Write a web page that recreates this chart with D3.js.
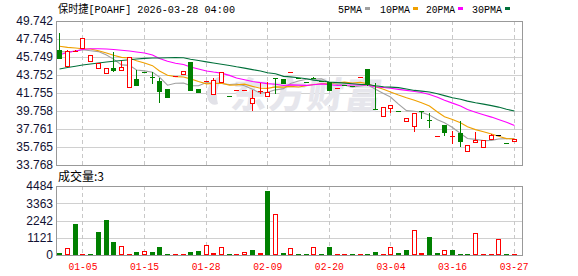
<!DOCTYPE html>
<html>
<head>
<meta charset="utf-8">
<script src="https://cdn.jsdelivr.net/npm/d3@7"></script>
<style>
  body { margin: 0; background: #fff; }
  svg { display: block; }
</style>
</head>
<body>
<div id="chart"></div>
<script>
// Step 1.
// Data

const dates = ["12-30", "12-31", "01-02", "01-05", "01-06", "01-07", "01-08", "01-09", "01-12", "01-13",
  "01-14", "01-15", "01-16", "01-20", "01-21", "01-22", "01-23", "01-26", "01-27", "01-28",
  "01-29", "01-30", "02-02", "02-03", "02-04", "02-05", "02-06", "02-09", "02-10", "02-11",
  "02-12", "02-13", "02-17", "02-18", "02-19", "02-20", "02-23", "02-24", "02-25", "02-26",
  "02-27", "03-02", "03-03", "03-04", "03-05", "03-06", "03-09", "03-10", "03-11", "03-12",
  "03-13", "03-16", "03-17", "03-18", "03-19", "03-20", "03-23", "03-24", "03-26", "03-27"];

const opens = [46.52, 44.67, 46.33, 46.67, 45.16, 44.38, 43.83, 44.56, 44.23, 42.28,
  43.31, 44.06, 43.50, 43.09, 42.20, 43.58, 43.78, 45.19, 42.20, 43.02,
  41.50, 42.90, 41.45, 42.02, 42.05, 40.50, 41.97, 41.28, 43.40, 43.31,
  44.02, 43.42, 42.95, 43.47, 43.05, 42.98, 42.25, 42.62, 42.48, 43.47,
  44.42, 39.95, 39.06, 39.95, 39.79, 38.51, 37.95, 39.73, 38.80, 36.88,
  38.21, 36.90, 37.32, 35.21, 36.21, 35.62, 36.54, 37.08, 36.22, 36.28];

const highs = [48.44, 46.50, 46.50, 47.82, 45.94, 45.12, 44.53, 46.30, 45.34, 45.78,
  44.31, 44.06, 44.05, 43.42, 42.20, 43.64, 44.16, 45.19, 42.20, 43.05,
  43.45, 44.14, 41.45, 42.05, 42.08, 42.05, 42.83, 42.98, 43.40, 43.31,
  44.05, 43.45, 43.00, 43.53, 43.08, 42.98, 42.28, 42.65, 42.48, 43.50,
  44.42, 42.83, 40.17, 40.39, 39.79, 38.95, 39.50, 39.73, 39.54, 37.00,
  38.21, 37.54, 38.65, 35.95, 37.39, 36.58, 37.20, 37.08, 36.22, 36.62];

const lows = [45.50, 44.62, 46.30, 46.67, 45.16, 44.38, 43.83, 44.05, 44.23, 42.28,
  42.57, 44.00, 42.75, 40.68, 41.23, 43.58, 43.78, 42.01, 41.72, 43.02,
  41.50, 42.90, 41.39, 42.02, 42.05, 39.79, 41.61, 41.28, 41.59, 42.75,
  44.02, 43.35, 42.88, 43.27, 42.97, 42.01, 42.25, 42.50, 42.39, 43.47,
  42.55, 39.87, 39.06, 39.57, 39.61, 38.51, 37.46, 38.84, 37.82, 36.88,
  37.02, 36.10, 35.71, 35.21, 36.21, 35.62, 36.54, 37.08, 36.20, 36.28];

const closes = [45.58, 46.45, 46.40, 47.82, 45.94, 45.12, 44.53, 44.16, 44.60, 45.71,
  42.57, 44.00, 43.45, 41.83, 41.23, 43.64, 44.16, 42.01, 41.72, 43.05,
  43.16, 44.14, 41.39, 42.05, 42.08, 41.17, 42.00, 41.92, 43.36, 42.75,
  44.05, 43.37, 42.90, 43.34, 43.00, 42.01, 42.28, 42.52, 42.39, 43.50,
  42.59, 39.87, 40.17, 40.39, 39.61, 38.95, 39.50, 39.68, 38.76, 37.00,
  37.28, 36.93, 36.35, 35.95, 36.55, 36.58, 37.06, 37.08, 36.20, 36.62];

const volumes = [130, 435, 2015, 60, 60, 1517, 2275, 867, 563, 60,
  195, 260, 195, 520, 70, 50, 50, 200, 280, 650,
  130, 500, 65, 65, 195, 345, 130, 4160, 2665, 130,
  435, 65, 65, 500, 65, 520, 65, 65, 65, 65,
  65, 195, 65, 500, 130, 325, 1625, 130, 1170, 130,
  325, 325, 65, 65, 1430, 65, 65, 1040, 65, 3];

// moving averages before a full window exists (earlier days are off the chart)
const ma5Head = [46.35, 46.30, 46.40, 46.55];
const ma10Head = [46.94, 46.82, 46.75, 46.67, 46.63, 46.45, 46.19, 45.94, 45.71];
const ma20Head = [46.00, 46.25, 46.41, 46.58, 46.67, 46.67, 46.64, 46.58, 46.49, 46.41,
  46.30, 46.19, 45.97, 45.58, 45.27, 45.06, 44.91, 44.64, 44.42];
const ma30Head = [44.42, 44.58, 44.72, 44.86, 44.97, 45.08, 45.19, 45.27, 45.36, 45.45,
  45.52, 45.60, 45.64, 45.64, 45.66, 45.69, 45.66, 45.49, 45.36, 45.21,
  45.08, 44.95, 44.81, 44.66, 44.51, 44.35, 44.20, 44.00, 43.89];

const priceTicks = [49.742, 47.745, 45.749, 43.752, 41.755, 39.758, 37.761, 35.765, 33.768];
const volumeTicks = [4484, 3363, 2242, 1121, 0];
const dateTicks = ["01-05", "01-15", "01-28", "02-09", "02-20", "03-04", "03-16", "03-27"];

const maNames = ["5PMA", "10PMA", "20PMA", "30PMA"];
const maColors = ["#a0a0a0", "#f0a000", "#ff00ff", "#00703a"];

// Step 2.
// Layout

const svgWidth = 578;
const svgHeight = 276;
const left = 56, right = 522;
const priceTop = 21, priceBottom = 165;
const volTop = 186, volBottom = 255;

const RED = "#ff0000", GREEN = "#008000";
const monoFont = "'Liberation Mono', 'Noto Sans CJK SC', monospace";

const svg = d3.select("#chart")
  .append("svg")
  .attr("width", svgWidth)
  .attr("height", svgHeight);

const x = d3.scaleBand().domain(dates).range([left, 518]);
const cx = d => Math.round(x(d) + x.bandwidth() / 2 - 0.5);

const y = d3.scaleLinear()
  .domain([priceTicks[priceTicks.length - 1], priceTicks[0]])
  .range([priceBottom, priceTop]);

const yVol = d3.scaleLinear()
  .domain([0, volumeTicks[0]])
  .range([volBottom, volTop]);

// Step 3.
// Frames and grid

function drawPanel(top, bottom, ticks, scale) {
  const g = svg.append("g").attr("shape-rendering", "crispEdges");
  g.selectAll(".hgrid")
    .data(ticks)
    .enter()
    .append("line")
    .attr("x1", left).attr("x2", right)
    .attr("y1", d => Math.round(scale(d)) + 0.5)
    .attr("y2", d => Math.round(scale(d)) + 0.5)
    .attr("stroke", "#d0d0d0");
  g.selectAll(".vgrid")
    .data(dateTicks)
    .enter()
    .append("line")
    .attr("x1", d => cx(d) + 0.5).attr("x2", d => cx(d) + 0.5)
    .attr("y1", top).attr("y2", bottom)
    .attr("stroke", "#c8c8c8")
    .attr("stroke-dasharray", "4,3");
  g.append("rect")
    .attr("x", left + 0.5).attr("y", top + 0.5)
    .attr("width", right - left).attr("height", bottom - top)
    .attr("fill", "none")
    .attr("stroke", "#999");
}
drawPanel(priceTop, priceBottom, priceTicks, y);
drawPanel(volTop, volBottom, volumeTicks, yVol);

// watermark
const wm = svg.append("g").attr("fill", "#e6e6ec");
wm.append("path")
  .attr("d", "M208,100 C204,86 214,76 228,74 C220,80 214,90 218,104 C214,106 210,104 208,100 Z")
  .attr("fill", "#e2e2e8");
wm.append("text")
  .attr("x", 230).attr("y", 108)
  .attr("transform", "skewX(-8) translate(15,0)")
  .style("font-family", "'Noto Sans CJK SC'")
  .style("font-weight", 900)
  .style("font-size", "36px")
  .attr("textLength", 150)
  .text("东方财富");

// Step 4.
// Axes

const priceAxis = svg.append("g")
  .attr("transform", `translate(${left}, 0)`)
  .call(d3.axisLeft(y).tickValues(priceTicks).tickFormat(d3.format(".3f")).tickSize(0).tickPadding(3));

const volAxis = svg.append("g")
  .attr("transform", `translate(${left}, 0)`)
  .call(d3.axisLeft(yVol).tickValues(volumeTicks).tickFormat(d3.format("d")).tickSize(0).tickPadding(3));

[priceAxis, volAxis].forEach(a => {
  a.select(".domain").remove();
  a.selectAll("text")
    .style("font-family", "'Liberation Sans', Arial, sans-serif")
    .style("font-size", "12px")
    .attr("fill", "#111133");
});

const dateAxis = svg.append("g")
  .attr("transform", `translate(0, ${volBottom})`)
  .call(d3.axisBottom(x).tickValues(dateTicks).tickSize(0).tickPadding(7));
dateAxis.select(".domain").remove();
dateAxis.selectAll("text")
  .style("font-family", monoFont)
  .style("font-size", "11px")
  .attr("fill", RED)
  .attr("textLength", 29)
  .attr("lengthAdjust", "spacingAndGlyphs");

// Step 5.
// Moving averages

function movingAverage(n, head) {
  return closes.map((c, i) => i < n - 1 ? head[i] : d3.mean(closes.slice(i - n + 1, i + 1)));
}
const maSeries = [movingAverage(5, ma5Head), movingAverage(10, ma10Head),
  movingAverage(20, ma20Head), movingAverage(30, ma30Head)];

svg.append("clipPath").attr("id", "priceClip")
  .append("rect").attr("x", left + 1).attr("y", priceTop + 1)
  .attr("width", right - left - 1).attr("height", priceBottom - priceTop - 1);

const maLine = d3.line()
  .x((v, i) => cx(dates[i]) + 0.5)
  .y(v => y(v));

const maGroup = svg.append("g").attr("clip-path", "url(#priceClip)");
maSeries.forEach((s, k) => {
  maGroup.append("path")
    .attr("d", maLine(s))
    .attr("fill", "none")
    .attr("stroke", maColors[k])
    .attr("stroke-width", 1.1);
});

// Step 6.
// Candles

const rows = dates.map((d, i) => ({
  date: d, open: opens[i], high: highs[i], low: lows[i], close: closes[i],
  volume: volumes[i], prevClose: i > 0 ? closes[i - 1] : opens[i]
}));

const candles = svg.append("g").attr("shape-rendering", "crispEdges");
rows.forEach(r => {
  const c = cx(r.date);
  const color = r.close > r.open ? RED : (r.close < r.open ? GREEN : "#000");
  const top = Math.round(y(Math.max(r.open, r.close)));
  const bottom = Math.max(Math.round(y(Math.min(r.open, r.close))), top + 1);
  const hi = Math.round(y(r.high)), lo = Math.round(y(r.low));
  if (lo - hi > bottom - top) {
    candles.append("line")
      .attr("x1", c + 0.5).attr("x2", c + 0.5)
      .attr("y1", hi).attr("y2", lo)
      .attr("stroke", color);
  }
  if (color === RED && bottom - top >= 3) {
    candles.append("rect")
      .attr("x", c - 1.5).attr("y", top + 0.5)
      .attr("width", 4).attr("height", bottom - top - 1)
      .attr("fill", "#fff").attr("stroke", RED);
  } else {
    candles.append("rect")
      .attr("x", c - 2).attr("y", top)
      .attr("width", 5).attr("height", bottom - top)
      .attr("fill", color);
  }
});

// Step 7.
// Volume bars (colour follows change from previous close)

const bars = svg.append("g").attr("shape-rendering", "crispEdges");
rows.forEach(r => {
  const c = cx(r.date);
  const up = r.close >= r.prevClose;
  const top = Math.min(Math.round(yVol(r.volume)), volBottom - 1);
  const h = volBottom - top;
  if (up && h >= 3) {
    bars.append("rect")
      .attr("x", c - 1.5).attr("y", top + 0.5)
      .attr("width", 4).attr("height", h - 1)
      .attr("fill", "#fff").attr("stroke", RED);
  } else {
    bars.append("rect")
      .attr("x", c - 2).attr("y", top)
      .attr("width", 5).attr("height", h)
      .attr("fill", up ? RED : GREEN);
  }
});

// Step 8.
// Title, legend, volume label

svg.append("text")
  .attr("x", 58).attr("y", 13)
  .style("font-family", monoFont)
  .style("font-size", "11px")
  .attr("textLength", 177)
  .attr("lengthAdjust", "spacingAndGlyphs")
  .text("保时捷[POAHF] 2026-03-28 04:00");

const legendX = [338, 380, 426, 472];
const legendW = [24, 30, 29, 30];
maNames.forEach((name, k) => {
  svg.append("text")
    .attr("x", legendX[k]).attr("y", 13)
    .style("font-family", monoFont)
    .style("font-size", "11px")
    .attr("textLength", legendW[k])
    .attr("lengthAdjust", "spacingAndGlyphs")
    .text(name);
  svg.append("rect")
    .attr("x", legendX[k] + legendW[k] + 3).attr("y", 7)
    .attr("width", 5).attr("height", 3)
    .attr("fill", maColors[k]);
});

svg.append("text")
  .attr("x", 58).attr("y", 181)
  .style("font-family", "'Noto Sans CJK SC', sans-serif")
  .style("font-size", "12px")
  .text("成交量:" + volumes[volumes.length - 1]);
</script>
</body>
</html>
